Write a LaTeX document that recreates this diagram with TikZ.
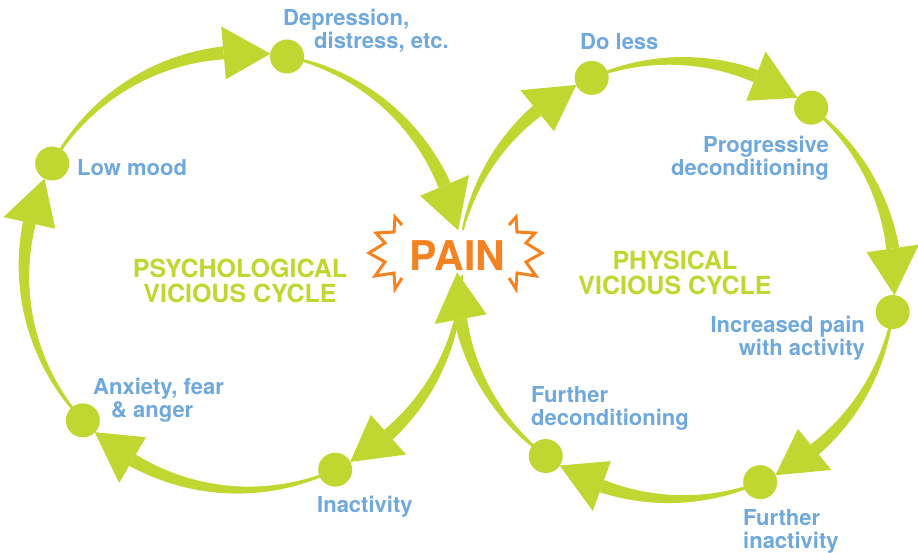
\documentclass[tikz,border=0pt]{standalone}
\usepackage{fontspec}
\setmainfont{TeX Gyre Heros}
\definecolor{cyclegreen}{RGB}{191,215,48}
\definecolor{labelblue}{RGB}{111,168,220}
\definecolor{painorange}{RGB}{245,130,32}
\tikzset{
  dot/.style={circle, fill=cyclegreen, minimum size=34pt, inner sep=0pt},
  lbl/.style={text=labelblue, font=\bfseries\fontsize{22}{23}\selectfont, inner sep=0pt},
  cyc/.style={text=cyclegreen, font=\bfseries\fontsize{25}{25}\selectfont, inner sep=0pt, align=center},
  burst/.style={draw=painorange, line width=3pt, line join=miter},
}
\def\rr{219}
\def\hw{26.5}
\def\hd{12.3}
% tapered arc with a wide head: centre x, centre y, start angle, tip angle
\newcommand{\cyclearrow}[4]{%
  \pgfmathsetmacro{\hb}{#4-\hd}
  \fill[cyclegreen] plot[domain=#3:\hb, samples=40]
      ({#1+(\rr+bw(\x,#3,\hb)/2)*cos(\x)}, {#2+(\rr+bw(\x,#3,\hb)/2)*sin(\x)})
    -- plot[domain=\hb:#3, samples=40]
      ({#1+(\rr-bw(\x,#3,\hb)/2)*cos(\x)}, {#2+(\rr-bw(\x,#3,\hb)/2)*sin(\x)})
    -- cycle;
  \fill[cyclegreen] ({#1+(\rr+\hw)*cos(\hb)}, {#2+(\rr+\hw)*sin(\hb)})
    -- ({#1+\rr*cos(#4)}, {#2+\rr*sin(#4)})
    -- ({#1+(\rr-\hw)*cos(\hb)}, {#2+(\rr-\hw)*sin(\hb)}) -- cycle;
}
\newcommand{\painburst}{%
  \draw[burst] (402,225) -- (395,217) -- (394,232) -- (376,233) -- (385,243) -- (369,253)
    -- (385,262) -- (375,276) -- (394,273) -- (395,289) -- (402,278);
}

\begin{document}
\begin{tikzpicture}[x=1pt, y=-1pt, declare function={bw(\t,\s,\e)=2+11*(\t-(\s))/((\e)-(\s));}]
  \useasboundingbox (0,0) rectangle (918,552);

  % psychological cycle, centre (243,271)
  \foreach \s/\t in {137/205, 209.4/277.2, 281.6/349.3, 1/60.7, 65.1/132.6}
    {\cyclearrow{243}{271}{\s}{\t}}
  \foreach \a/\n in {209.4/lowmood, 281.6/depression, 65.1/inactivity, 137/anxiety}
    {\node[dot] (\n) at ({243+\rr*cos(\a)}, {271+\rr*sin(\a)}) {};}

  % physical cycle, centre (676,280)
  \foreach \s/\t in {-166.8/-117.05, -112.65/-56.3, -51.9/4, 8.4/63, 67.4/122.1, 126.5/182}
    {\cyclearrow{676}{280}{\s}{\t}}
  \foreach \a/\n in {-112.65/doless, -51.9/progressive, 8.4/increased, 67.4/furtherinact, 126.5/furtherdecond}
    {\node[dot] (\n) at ({676+\rr*cos(\a)}, {280+\rr*sin(\a)}) {};}

  % labels (base = baseline of the last line)
  \node[lbl, anchor=base west, align=left] (depressionlbl) at (283,48) {Depression,\\\hspace*{31pt}distress, etc.};
  \node[lbl, anchor=base west] (lowmoodlbl) at (77,175) {Low mood};
  \node[lbl, anchor=base west, align=left] (anxietylbl) at (93,417) {Anxiety, fear\\\hspace*{18pt}\& anger};
  \node[lbl, anchor=base west] (inactivitylbl) at (317,512) {Inactivity};
  \node[lbl, anchor=base west] (dolesslbl) at (580,49) {Do less};
  \node[lbl, anchor=base east, align=right] (progressivelbl) at (829,175) {Progressive\\deconditioning};
  \node[lbl, anchor=base east, align=right] (increasedlbl) at (865,355) {Increased pain\\with activity};
  \node[lbl, anchor=base west, align=left] (furtherdecondlbl) at (531,425) {Further\\deconditioning};
  \node[lbl, anchor=base west, align=left] (furtherinactlbl) at (743,548) {Further\\inactivity};

  \node[cyc, anchor=base] (psych) at (240,302) {PSYCHOLOGICAL\\VICIOUS CYCLE};
  \node[cyc, anchor=base] (phys) at (675,294) {PHYSICAL\\VICIOUS CYCLE};

  % pain
  \painburst
  \begin{scope}[xshift=911pt, xscale=-1]
    \painburst
  \end{scope}
  \node[text=painorange, font=\bfseries\fontsize{41}{41}\selectfont, inner sep=0pt, anchor=base] (pain) at (457.5,270) {PAIN};
\end{tikzpicture}
\end{document}
